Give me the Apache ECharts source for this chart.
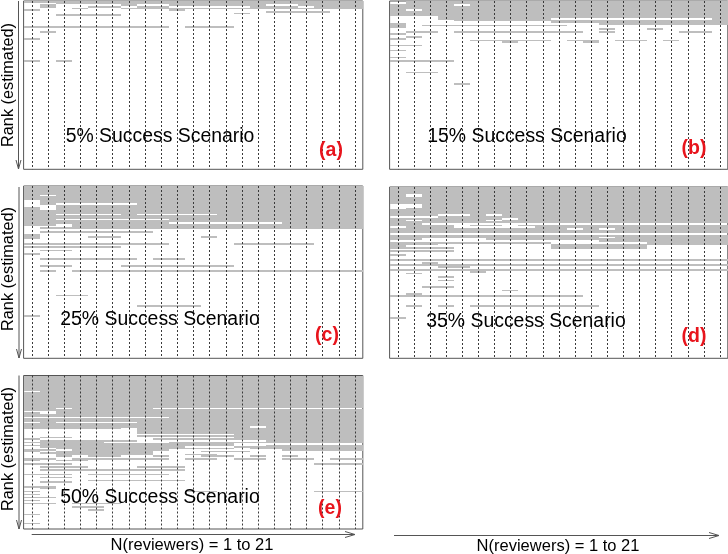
<!DOCTYPE html>
<html><head><meta charset="utf-8">
<script src="https://cdn.jsdelivr.net/npm/echarts@6/dist/echarts.min.js"></script>
<style>html,body{margin:0;padding:0;background:#fff}#c{width:728px;height:554px}</style>
</head><body><div id="c"></div><script>
// N(reviewers) columns
const columns = [1,2,3,4,5,6,7,8,9,10,11,12,13,14,15,16,17,18,19,20,21];
// rank range (estimated rank, 1 = top)
const rankRange = [1, 100];
// gray cells: [colFrom, colTo, rankFrom, rankTo]
const cellsA = [
 [1,21,1,1],[3,21,2,2],
 [2,2,3,3],[7,7,3,3],[10,15,3,3],[18,21,3,3],
 [2,2,4,4],[5,6,4,4],[8,9,4,4],[15,17,4,4],[19,21,4,4],
 [4,4,5,5],[7,21,5,5],
 [1,1,6,6],[10,10,6,6],
 [16,19,7,7],[14,14,8,8],[3,6,9,9],
 [1,9,16,16],[11,13,16,16],
 [2,2,19,19],[1,1,23,23],[1,1,36,36],[3,3,36,36]
];
const cellsB = [
 [2,21,1,2],[1,4,3,3],[6,21,3,3],[1,21,4,5],[1,1,6,6],[3,21,6,6],[1,21,7,9],
 [4,21,10,10],[4,10,11,11],[21,21,11,11],[5,21,12,12],[11,21,13,13],
 [1,1,14,14],[14,21,14,14],[1,1,15,15],[3,11,15,15],[1,1,16,16],
 [14,14,17,17],[17,17,17,17],
 [2,3,19,19],[5,12,19,19],[14,14,19,19],[19,20,19,19],
 [1,1,20,20],[2,2,22,22],[1,1,23,23],
 [6,10,24,24],[12,13,24,24],[15,16,24,24],[18,18,24,24],
 [8,8,25,25],[13,13,25,25],[1,2,27,27],[1,1,30,30],[1,1,34,34],
 [1,4,36,36],[2,3,43,43],[5,5,50,50]
];
const cellsC = [
 [1,21,1,5],[1,1,6,6],[3,21,6,6],[1,21,7,8],[2,21,9,10],
 [2,2,11,11],[8,21,11,11],[3,21,12,12],[1,1,13,14],[3,21,13,14],
 [1,21,15,16],[1,2,17,17],[7,7,17,17],[13,21,17,17],[1,21,18,19],
 [1,2,20,20],[10,21,20,20],[1,21,21,21],[1,9,22,22],[17,21,22,22],
 [1,2,23,23],[4,21,23,23],[4,21,24,24],[2,21,25,25],
 [2,8,27,27],[1,1,29,31],[5,6,30,30],[12,12,30,30],
 [1,9,34,34],[14,18,34,34],[1,6,36,36],[2,3,38,38],[1,1,40,40],
 [2,7,43,43],[9,10,43,43],[2,3,47,47],[7,13,47,47],
 [2,2,50,50],[4,21,50,50],[3,4,64,64],[8,11,70,70],[1,1,76,76]
];
const cellsD = [
 [1,21,1,4],[1,1,5,6],[3,21,5,6],[1,21,7,10],[3,21,11,12],[2,21,13,13],
 [1,21,14,16],[1,3,17,17],[6,6,17,17],[8,21,17,17],[4,21,18,18],
 [1,7,19,19],[9,21,19,19],[1,1,20,20],[3,6,20,20],[8,21,20,20],
 [1,21,21,21],[1,2,22,22],[1,4,23,23],[6,7,23,23],[9,21,23,23],
 [2,4,24,24],[10,21,24,24],[1,11,25,25],[13,13,25,25],[15,21,25,25],
 [1,21,26,27],[1,21,29,29],[1,13,30,30],[15,21,30,30],
 [1,2,31,31],[7,21,31,31],[14,21,32,32],[1,10,33,33],[17,21,33,33],
 [1,3,34,34],[11,21,34,34],[1,1,35,35],[11,16,35,35],[1,4,36,36],[11,16,36,36],
 [1,4,38,38],[1,1,40,40],[1,21,43,43],[3,3,45,45],[1,21,46,46],[4,5,47,47],
 [1,21,49,49],[6,6,50,50],[2,2,51,51],[4,4,53,53],[4,4,55,55],[3,4,59,59],
 [8,8,61,61],[2,2,63,63],[1,12,64,64],[2,2,70,70],[4,4,70,70],[6,13,70,70],[1,1,77,77]
];
const cellsE = [
 [1,21,1,10],[2,21,11,11],[1,21,12,21],[1,2,22,22],[4,8,22,22],[1,21,23,23],
 [3,21,24,24],[1,1,25,25],[3,21,25,25],[1,21,26,27],[10,21,28,28],[1,21,29,30],
 [2,2,31,31],[8,21,31,31],[1,21,32,33],[1,14,34,34],[16,21,34,34],
 [1,6,35,35],[8,21,35,35],[8,21,36,38],[14,21,39,39],[8,21,40,40],
 [2,3,41,41],[14,21,41,41],[1,1,42,42],[9,21,42,42],[2,7,43,43],[16,21,43,43],
 [1,5,44,44],[10,21,44,44],[2,13,45,45],[1,13,46,46],[16,21,46,46],
 [2,10,47,47],[14,21,47,47],[3,13,48,48],[15,21,48,48],
 [1,2,49,49],[4,9,49,49],[17,21,49,49],[1,1,50,50],[3,8,50,50],[12,14,50,50],
 [2,8,51,51],[3,8,52,52],[11,12,52,52],
 [3,3,53,53],[5,6,53,53],[9,9,53,53],[12,13,53,53],[15,15,53,53],[17,17,53,53],
 [1,2,55,55],[4,9,55,55],[11,12,55,55],[14,15,55,55],[17,18,55,55],[20,21,55,55],
 [1,1,56,56],[3,4,56,56],[1,3,58,58],[19,21,58,58],[2,4,60,60],[8,10,60,60],
 [2,10,62,62],[1,3,65,65],[5,9,65,65],[2,3,67,67],[5,10,69,69],[2,3,70,70],
 [1,2,73,73],[2,2,74,74],[1,1,76,76],[11,12,76,76],[19,21,76,76],[1,1,78,78],
 [1,2,80,80],[1,1,82,82],[1,2,84,84],[4,6,84,84],[4,5,86,86],[5,5,88,88],
 [1,1,91,91],[1,1,97,97]
];
const scenarioLabels = ['5% Success Scenario','15% Success Scenario','25% Success Scenario','35% Success Scenario','50% Success Scenario'];
const panelTags = ['(a)','(b)','(c)','(d)','(e)'];
const yAxisTitle = 'Rank (estimated)';
const xAxisTitle = 'N(reviewers) = 1 to 21';

const panelData = [cellsA, cellsB, cellsC, cellsD, cellsE];
// layout
const layout = [
 {left:23.6, top:1, width:339.2, height:168.3, txt:[160,136.5], tag:[331,150.5]},
 {left:389.6, top:1, width:338.2, height:168.3, txt:[527,136.5], tag:[694,148.5]},
 {left:23.6, top:186, width:339.2, height:172.3, txt:[160,319.5], tag:[327,336]},
 {left:389.6, top:187, width:338.2, height:171.3, txt:[526,322], tag:[694,336.5]},
 {left:23.6, top:375.5, width:339.2, height:153.5, txt:[160,498], tag:[330,509]}
];
const GRAY = '#bebebe', FONT = '"Liberation Sans", Arial, sans-serif';

const grid = [], xAxis = [], yAxis = [], series = [], graphic = [];
layout.forEach((L, i) => {
  grid.push({left:L.left, top:L.top, width:L.width, height:L.height, show:true,
    borderColor:'#555', borderWidth:1, backgroundColor:'#fff', containLabel:false});
  xAxis.push({type:'value', gridIndex:i, min:columns[0]-0.5, max:columns[columns.length-1]+0.5,
    show:false});
  yAxis.push({type:'value', gridIndex:i, inverse:true, min:rankRange[0]-0.5, max:rankRange[1]+0.5,
    show:false});
  series.push({type:'custom', xAxisIndex:i, yAxisIndex:i, silent:true,
    encode:{x:[0,1], y:[2,3]}, data:panelData[i],
    renderItem:function(params, api){
      const p1 = api.coord([api.value(0)-0.5, api.value(2)-0.5]);
      const p2 = api.coord([api.value(1)+0.5, api.value(3)+0.5]);
      const x1 = Math.round(Math.min(p1[0],p2[0])), x2 = Math.round(Math.max(p1[0],p2[0]));
      const y1 = Math.round(Math.min(p1[1],p2[1])), y2 = Math.round(Math.max(p1[1],p2[1]));
      return {type:'rect', shape:{x:x1, y:y1, width:x2-x1, height:Math.max(1, y2-y1)},
        style:{fill:GRAY}};
    }});
  series.push({type:'custom', xAxisIndex:i, yAxisIndex:i, silent:true,
    encode:{x:0}, data:columns.map(c=>[c]),
    renderItem:function(params, api){
      const a = api.coord([api.value(0), rankRange[0]-0.5]);
      const b = api.coord([api.value(0), rankRange[1]+0.5]);
      const x = Math.round(a[0])+0.5;
      return {type:'line', shape:{x1:x, y1:a[1], x2:x, y2:b[1]},
        style:{stroke:'#3a3a3a', lineWidth:1, lineDash:[2,2]}};
    }});
  graphic.push({type:'text', x:L.txt[0], y:L.txt[1], z:100,
    style:{text:scenarioLabels[i], font:'19.4px '+FONT, fill:'#000', align:'center', verticalAlign:'middle'}});
  graphic.push({type:'text', x:L.tag[0], y:L.tag[1], z:100,
    style:{text:panelTags[i], font:'bold 19.5px '+FONT, fill:'#e8141c', align:'center', verticalAlign:'middle'}});
});
// left y-axis arrows and titles (panels a, c, e)
[[18.5,1,169,85],[19,187,358,269],[19,375.5,529,449]].forEach(a => {
  graphic.push({type:'line', shape:{x1:a[0], y1:a[1], x2:a[0], y2:a[2]}, style:{stroke:'#555', lineWidth:1}});
  graphic.push({type:'polyline', shape:{points:[[a[0]-2.5,a[2]-9],[a[0],a[2]],[a[0]+2.5,a[2]-9]]}, style:{stroke:'#555', lineWidth:1, fill:null}});
  graphic.push({type:'text', x:8.5, y:a[3], rotation:Math.PI/2,
    style:{text:yAxisTitle, font:'16.3px '+FONT, fill:'#000', align:'center', verticalAlign:'middle'}});
});
// bottom x-axis arrows and titles
[[31.7,355,534.5,192,545],[394,719,535.5,558,546.5]].forEach(a => {
  graphic.push({type:'line', shape:{x1:a[0], y1:a[2], x2:a[1], y2:a[2]}, style:{stroke:'#555', lineWidth:1}});
  graphic.push({type:'polyline', shape:{points:[[a[1]-10,a[2]-3],[a[1],a[2]],[a[1]-10,a[2]+3]]}, style:{stroke:'#555', lineWidth:1, fill:null}});
  graphic.push({type:'text', x:a[3], y:a[4],
    style:{text:xAxisTitle, font:'16.5px '+FONT, fill:'#000', align:'center', verticalAlign:'middle'}});
});

const chart = echarts.init(document.getElementById('c'), null, {renderer:'canvas'});
chart.setOption({animation:false, backgroundColor:'#fff', grid, xAxis, yAxis, series, graphic});
</script></body></html>
